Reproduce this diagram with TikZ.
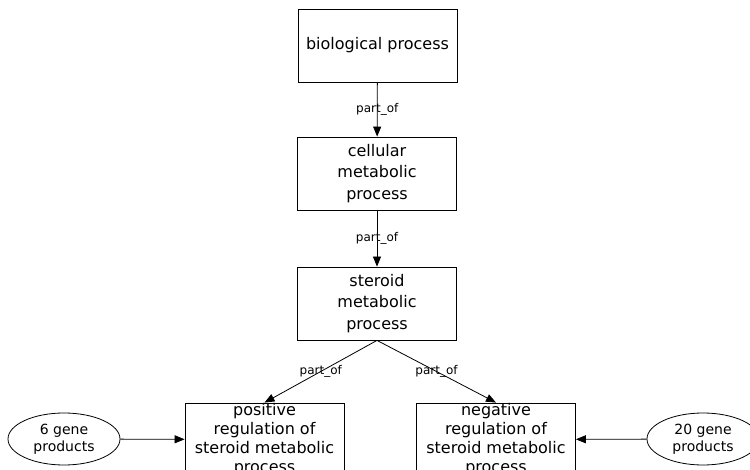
\documentclass[tikz,border=0pt]{standalone}
\usepackage{fontspec}
\setmainfont{DejaVu Sans}
\usetikzlibrary{arrows.meta,shapes.geometric}

\tikzset{
  term/.style={draw, rectangle, minimum width=159pt, minimum height=73pt,
    inner sep=0pt, align=center, font=\fontsize{16}{21.5}\selectfont},
  regterm/.style={term, font=\fontsize{16}{19}\selectfont},
  genes/.style={draw, ellipse, minimum width=112pt, minimum height=52pt,
    inner sep=0pt, align=center, font=\fontsize{14}{17}\selectfont},
  partof/.style={-{Triangle[length=10pt,width=8pt]}},
  rel/.style={font=\fontsize{12}{14}\selectfont}
}

\begin{document}
\begin{tikzpicture}[x=1pt,y=-1pt,line width=0.8pt]
\clip (0,0) rectangle (750,470);
\fill[white] (0,0) rectangle (750,470);
\node[term] (bio) at (377.5,45.5) {biological process};
\node[term] (cell) at (377,173.5) {cellular\\metabolic\\process};
\node[term] (ster) at (377,303.5) {steroid\\metabolic\\process};
%
\node[regterm] (pos) at (264.5,439.5) {positive\\regulation of\\steroid metabolic\\process};
\node[regterm] (neg) at (496,439.5) {negative\\regulation of\\steroid metabolic\\process};
%
\node[genes] (six) at (64,439) {6 gene\\products};
\node[genes] (twenty) at (703,439) {20 gene\\products};
%
\draw[partof] (bio) -- node[rel] {part\_of} (cell);
\draw[partof] (cell) -- node[rel] {part\_of} (ster);
\draw[partof] (ster.south) -- node[rel] {part\_of} (pos.north);
\draw[partof] (ster.south) -- node[rel] {part\_of} (neg.north);
\draw[partof] (six) -- (pos);
\draw[partof] (twenty) -- (neg);
\end{tikzpicture}
\end{document}
